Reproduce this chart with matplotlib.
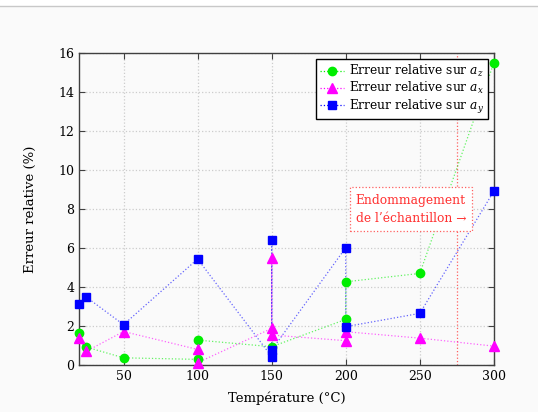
#Importing libraries
import numpy as np
import matplotlib.pyplot as plt
from matplotlib.lines import Line2D

plt.rcParams['font.family'] = ['DejaVu Serif']
plt.rcParams['mathtext.fontset'] = 'dejavuserif'

#Data (points in drawing order)
temp_z = [20, 25, 50, 100, 100, 150, 200, 200, 250, 300]
err_z = [1.64, 0.92, 0.37, 0.29, 1.28, 0.94, 2.34, 4.27, 4.70, 15.5]

temp_x = [20, 25, 50, 100, 100, 150, 150, 150, 200, 200, 250, 300]
err_x = [1.38, 0.71, 1.72, 0.80, 0.12, 1.88, 5.47, 1.54, 1.25, 1.71, 1.38, 0.97]

temp_y = [20, 25, 50, 100, 150, 150, 150, 200, 200, 250, 300]
err_y = [3.11, 3.48, 2.07, 5.44, 0.43, 6.41, 0.77, 6.02, 1.97, 2.65, 8.92]

damage_temp = 275
labels = [r'Erreur relative sur $a_z$', r'Erreur relative sur $a_x$', r'Erreur relative sur $a_y$']
x_ticks = [50, 100, 150, 200, 250, 300]
y_ticks = [0, 2, 4, 6, 8, 10, 12, 14, 16]

#Figure
fig = plt.figure(figsize=(5.38, 4.12), dpi=100, facecolor='#fafafa')
fig.add_artist(plt.Rectangle((0, 0.985), 1, 0.015, transform=fig.transFigure, color='white', zorder=0))
fig.add_artist(Line2D([0, 1], [0.985, 0.985], transform=fig.transFigure, color='#c8c8c8', lw=1))
ax = fig.add_axes([0.147, 0.114, 0.771, 0.757])
ax.set_facecolor('#fafafa')

series = [(temp_z, err_z, '#00ee00', 'o', 6), (temp_x, err_x, '#ff00ff', '^', 7.5),
          (temp_y, err_y, '#0000ff', 's', 5.5)]
for (t, e, c, m, s), lab in zip(series, labels):
    ax.plot(t, e, ':', color=c, lw=0.9, alpha=0.6, zorder=3)
    ax.plot(t, e, ls='none', marker=m, ms=s, mfc=c, mec=c, zorder=4, clip_on=False)
    # legend handle
    ax.plot([], [], ':', color=c, lw=0.9, marker=m, ms=s, mfc=c, mec=c, label=lab)

#Damage line and annotation
ax.axvline(damage_temp, color='#ff6060', ls=':', lw=0.9, zorder=2)
ax.text(244, 8.0, "Endommagement\nde l\u2019\u00e9chantillon \u2192", color='#ff3030',
        fontsize=8.8, ha='center', va='center', linespacing=1.5, zorder=5,
        bbox=dict(boxstyle='square,pad=0.5', fc='white', ec='#ff6060', ls=':', lw=0.9))

ax.set_xlim(20, 300)
ax.set_ylim(0, 16)
ax.set_xticks(x_ticks)
ax.set_yticks(y_ticks)
ax.grid(True, ls=':', color='#cccccc', lw=0.9)
ax.tick_params(direction='in', top=True, right=True, length=4, labelsize=9, color='#404040')
for s in ax.spines.values():
    s.set_color('#404040')
    s.set_linewidth(1)

ax.set_xlabel('Température (°C)', fontsize=9.5, labelpad=6)
ax.set_ylabel('Erreur relative (%)', fontsize=9.5, labelpad=15)

leg = ax.legend(loc='upper right', fontsize=8.8, fancybox=False, framealpha=1,
                edgecolor='black', borderaxespad=0.5, handlelength=2.0,
                handletextpad=0.4, labelspacing=0.1, borderpad=0.3)
leg.get_frame().set_linewidth(1)
leg.set_zorder(6)

fig.savefig('out.png', dpi=100, facecolor=fig.get_facecolor())
